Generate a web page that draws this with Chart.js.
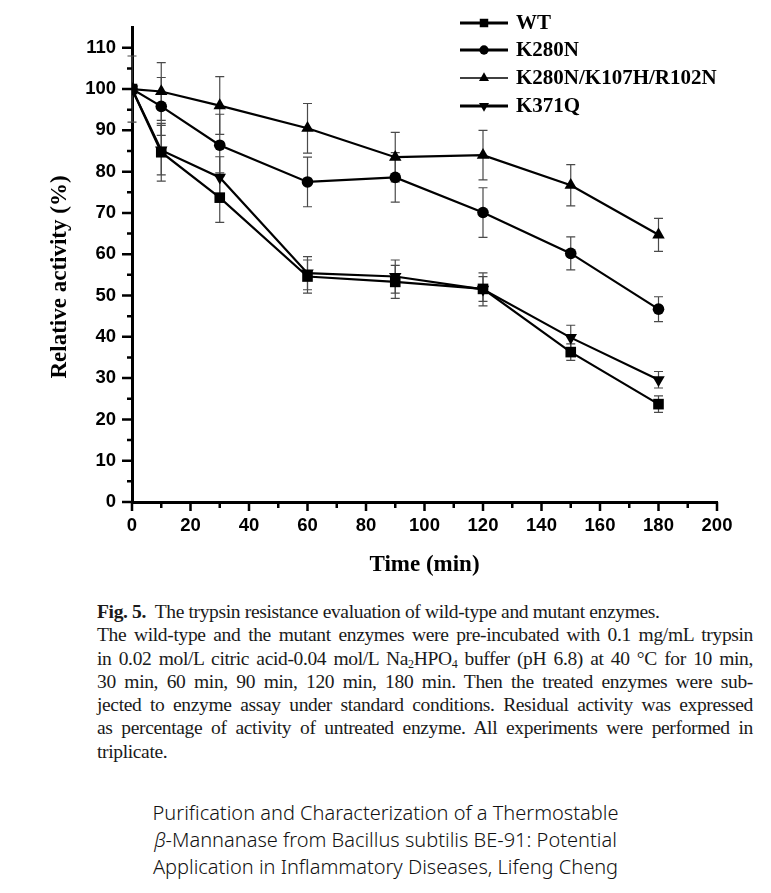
<!DOCTYPE html>
<html>
<head>
<meta charset="utf-8">
<script src="https://cdn.jsdelivr.net/npm/chart.js@4.4.1/dist/chart.umd.min.js"></script>
<style>
    body {
        margin: 0;
        background: #fff;
        width: 771px;
        height: 893px;
        position: relative;
        overflow: hidden;
    }
    #plotWrap {
        position: absolute;
        left: 0;
        top: 0;
        width: 771px;
        height: 590px;
    }
    #caption {
        position: absolute;
        left: 97px;
        top: 600px;
        width: 656px;
        font-family: 'Liberation Serif', serif;
        font-size: 19.5px;
        line-height: 23.3px;
        letter-spacing: -0.35px;
        color: #1a1a1a;
    }
    #caption .ln {
        text-align: justify;
        text-align-last: justify;
    }
    #caption .ln.last {
        text-align-last: left;
    }
    #caption sub {
        font-size: 12px;
        line-height: 0;
        vertical-align: -3px;
    }
    #source {
        position: absolute;
        left: 0;
        top: 799px;
        width: 771px;
        text-align: center;
        font-family: 'Noto Sans', sans-serif;
        font-size: 20px;
        font-weight: 300;
        line-height: 27px;
        color: #111;
    }
</style>
</head>
<body>
<div id="plotWrap"><canvas id="trypsinChart"></canvas></div>

<div id="caption">
    <div class="ln last"><b>Fig. 5.</b>&nbsp; The trypsin resistance evaluation of wild-type and mutant enzymes.</div>
    <div class="ln">The wild-type and the mutant enzymes were pre-incubated with 0.1 mg/mL trypsin</div>
    <div class="ln">in 0.02 mol/L citric acid-0.04 mol/L Na<sub>2</sub>HPO<sub>4</sub> buffer (pH 6.8) at 40 °C for 10 min,</div>
    <div class="ln">30 min, 60 min, 90 min, 120 min, 180 min. Then the treated enzymes were sub-</div>
    <div class="ln">jected to enzyme assay under standard conditions. Residual activity was expressed</div>
    <div class="ln">as percentage of activity of untreated enzyme. All experiments were performed in</div>
    <div class="ln last">triplicate.</div>
</div>

<div id="source">
    Purification and Characterization of a Thermostable<br>
    <i>β</i>-Mannanase from Bacillus subtilis BE-91: Potential<br>
    Application in Inflammatory Diseases, Lifeng Cheng
</div>

<script>
// Incubation times (min)
const times = [0, 10, 30, 60, 90, 120, 150, 180];

// Relative activity (%) and error bars
const wtValues = [100, 84.7, 73.7, 54.6, 53.3, 51.6, 36.3, 23.7];
const wtErrors = [8, 7, 6, 4, 4, 3, 2, 2];

const k280nValues = [100, 95.8, 86.4, 77.5, 78.6, 70.1, 60.2, 46.7];
const k280nErrors = [0, 7, 7.5, 6, 6, 6, 4, 3];

const tripleValues = [100, 99.4, 96.0, 90.5, 83.5, 84.0, 76.7, 64.7];
const tripleErrors = [0, 7, 7, 6, 6, 6, 5, 4];

const k371qValues = [100, 85.2, 78.6, 55.4, 54.6, 51.5, 39.8, 29.6];
const k371qErrors = [0, 6, 5, 4, 4, 4, 3, 2];

const seriesNames = ['WT', 'K280N', 'K280N/K107H/R102N', 'K371Q'];

// Axis ticks
const xTickValues = [0, 20, 40, 60, 80, 100, 120, 140, 160, 180, 200];
const xMinorTicks = [10, 30, 50, 70, 90, 110, 130, 150, 170, 190];
const yTickValues = [0, 10, 20, 30, 40, 50, 60, 70, 80, 90, 100, 110];
const yMinorTicks = [5, 15, 25, 35, 45, 55, 65, 75, 85, 95, 105];

const seriesValues = [wtValues, k280nValues, tripleValues, k371qValues];
const seriesErrors = [wtErrors, k280nErrors, tripleErrors, k371qErrors];
const markerStyles = ['rect', 'circle', 'triangle', 'triangle'];
const markerRotation = [0, 0, 0, 180];
const markerRadius = [7.5, 5.8, 7.2, 7.2];
const legendLineWidth = [3, 3, 1.5, 3];

const tickFont = "'Liberation Sans', Arial, sans-serif";
const titleFont = "'Liberation Serif', 'Times New Roman', serif";

function drawMarker(ctx, style, rotation, cx, cy, r) {
    ctx.beginPath();
    if (style === 'rect') {
        const s = r * Math.SQRT1_2;
        ctx.rect(cx - s, cy - s, 2 * s, 2 * s);
    } else if (style === 'circle') {
        ctx.arc(cx, cy, r, 0, Math.PI * 2);
    } else {
        const dir = rotation === 180 ? -1 : 1;
        ctx.moveTo(cx, cy - dir * r);
        ctx.lineTo(cx + r * 0.866, cy + dir * r * 0.5);
        ctx.lineTo(cx - r * 0.866, cy + dir * r * 0.5);
        ctx.closePath();
    }
    ctx.fill();
}

// error bars under the markers
const errorBars = {
    id: 'errorBars',
    beforeDatasetsDraw(chart) {
        const { ctx, scales: { x, y } } = chart;
        ctx.save();
        ctx.strokeStyle = '#4a4a4a';
        ctx.lineWidth = 1.2;
        seriesValues.forEach(function (vals, i) {
            vals.forEach(function (v, j) {
                const e = seriesErrors[i][j];
                if (!e) return;
                const px = x.getPixelForValue(times[j]);
                const top = y.getPixelForValue(v + e);
                const bot = y.getPixelForValue(v - e);
                ctx.beginPath();
                ctx.moveTo(px, top);
                ctx.lineTo(px, bot);
                ctx.moveTo(px - 4.5, top);
                ctx.lineTo(px + 4.5, top);
                ctx.moveTo(px - 4.5, bot);
                ctx.lineTo(px + 4.5, bot);
                ctx.stroke();
            });
        });
        ctx.restore();
    }
};

// tick marks (major + minor), y title and the legend block
const axisMarks = {
    id: 'axisMarks',
    afterDraw(chart) {
        const { ctx, scales: { x, y } } = chart;
        const left = x.left;
        const bottom = y.bottom;
        ctx.save();
        ctx.strokeStyle = '#000';
        ctx.lineWidth = 2.5;
        ctx.beginPath();
        yTickValues.forEach(function (v) {
            const py = y.getPixelForValue(v);
            ctx.moveTo(left - 10, py);
            ctx.lineTo(left, py);
        });
        yMinorTicks.forEach(function (v) {
            const py = y.getPixelForValue(v);
            ctx.moveTo(left - 5, py);
            ctx.lineTo(left, py);
        });
        xTickValues.forEach(function (v) {
            const px = x.getPixelForValue(v);
            ctx.moveTo(px, bottom);
            ctx.lineTo(px, bottom + 9);
        });
        xMinorTicks.forEach(function (v) {
            const px = x.getPixelForValue(v);
            ctx.moveTo(px, bottom);
            ctx.lineTo(px, bottom + 6);
        });
        ctx.stroke();

        ctx.fillStyle = '#000';

        // y axis title, a bit below the middle like the original
        ctx.save();
        ctx.translate(60, 277);
        ctx.rotate(-Math.PI / 2);
        ctx.font = "bold 23px " + titleFont;
        ctx.textAlign = 'center';
        ctx.textBaseline = 'middle';
        ctx.fillText('Relative activity (%)', 0, 0);
        ctx.restore();

        // legend
        const lx0 = 460, lx1 = 508, tx = 516;
        const rows = [23, 50, 78, 106];
        ctx.font = "bold 21px " + titleFont;
        ctx.textBaseline = 'middle';
        ctx.textAlign = 'left';
        seriesNames.forEach(function (name, i) {
            const ry = rows[i];
            ctx.lineWidth = legendLineWidth[i];
            ctx.beginPath();
            ctx.moveTo(lx0, ry);
            ctx.lineTo(lx1, ry);
            ctx.stroke();
            drawMarker(ctx, markerStyles[i], markerRotation[i], (lx0 + lx1) / 2, ry, markerRadius[i] * 0.8);
            ctx.fillText(name, tx, ry + 1);
        });
        ctx.restore();
    }
};

function initTrypsinChart() {
    const ctx = document.getElementById('trypsinChart');
    if (!ctx) return;

    const datasets = seriesNames.map(function (name, i) {
        return {
            label: name,
            data: times.map(function (t, j) { return { x: t, y: seriesValues[i][j] }; }),
            borderColor: '#000',
            backgroundColor: '#000',
            borderWidth: 2.2,
            pointStyle: markerStyles[i],
            pointRotation: markerRotation[i],
            pointRadius: markerRadius[i],
            pointBorderWidth: 0,
            pointBackgroundColor: '#000',
            tension: 0,
            fill: false
        };
    });

    const config = {
        type: 'line',
        data: { datasets: datasets },
        options: {
            responsive: true,
            maintainAspectRatio: false,
            animation: false,
            layout: {
                padding: { top: 25, right: 54, left: 0, bottom: 0 }
            },
            plugins: {
                legend: { display: false },
                tooltip: { enabled: false }
            },
            scales: {
                x: {
                    type: 'linear',
                    min: 0,
                    max: 200,
                    afterBuildTicks: function (scale) {
                        scale.ticks = xTickValues.map(function (v) { return { value: v }; });
                    },
                    afterFit: function (scale) {
                        scale.height = 88;
                    },
                    grid: { display: false, drawTicks: false },
                    border: { color: '#000', width: 3 },
                    ticks: {
                        padding: 13,
                        color: '#000',
                        autoSkip: false,
                        maxRotation: 0,
                        font: { family: tickFont, size: 18.5, weight: 'bold' }
                    },
                    title: {
                        display: true,
                        text: 'Time (min)',
                        color: '#000',
                        font: { family: titleFont, size: 23, weight: 'bold' },
                        padding: { top: 0, bottom: 11 }
                    }
                },
                y: {
                    min: 0,
                    max: 115,
                    afterBuildTicks: function (scale) {
                        scale.ticks = yTickValues.map(function (v) { return { value: v }; });
                    },
                    afterFit: function (scale) {
                        scale.width = 132;
                    },
                    grid: { display: false, drawTicks: false },
                    border: { color: '#000', width: 3 },
                    ticks: {
                        padding: 16,
                        color: '#000',
                        autoSkip: false,
                        font: { family: tickFont, size: 18.5, weight: 'bold' }
                    },
                    title: { display: false }
                }
            }
        },
        plugins: [errorBars, axisMarks]
    };

    new Chart(ctx, config);
}

// keep each caption row on one line: tighten letter spacing if it wraps
function fitCaption() {
    document.querySelectorAll('#caption .ln').forEach(function (el) {
        let ls = -0.35;
        while (el.offsetHeight > 30 && ls > -2) {
            ls -= 0.1;
            el.style.letterSpacing = ls + 'px';
        }
    });
}

if (document.readyState === 'loading') {
    document.addEventListener('DOMContentLoaded', function () { fitCaption(); initTrypsinChart(); });
} else {
    fitCaption();
    initTrypsinChart();
}
</script>
</body>
</html>
